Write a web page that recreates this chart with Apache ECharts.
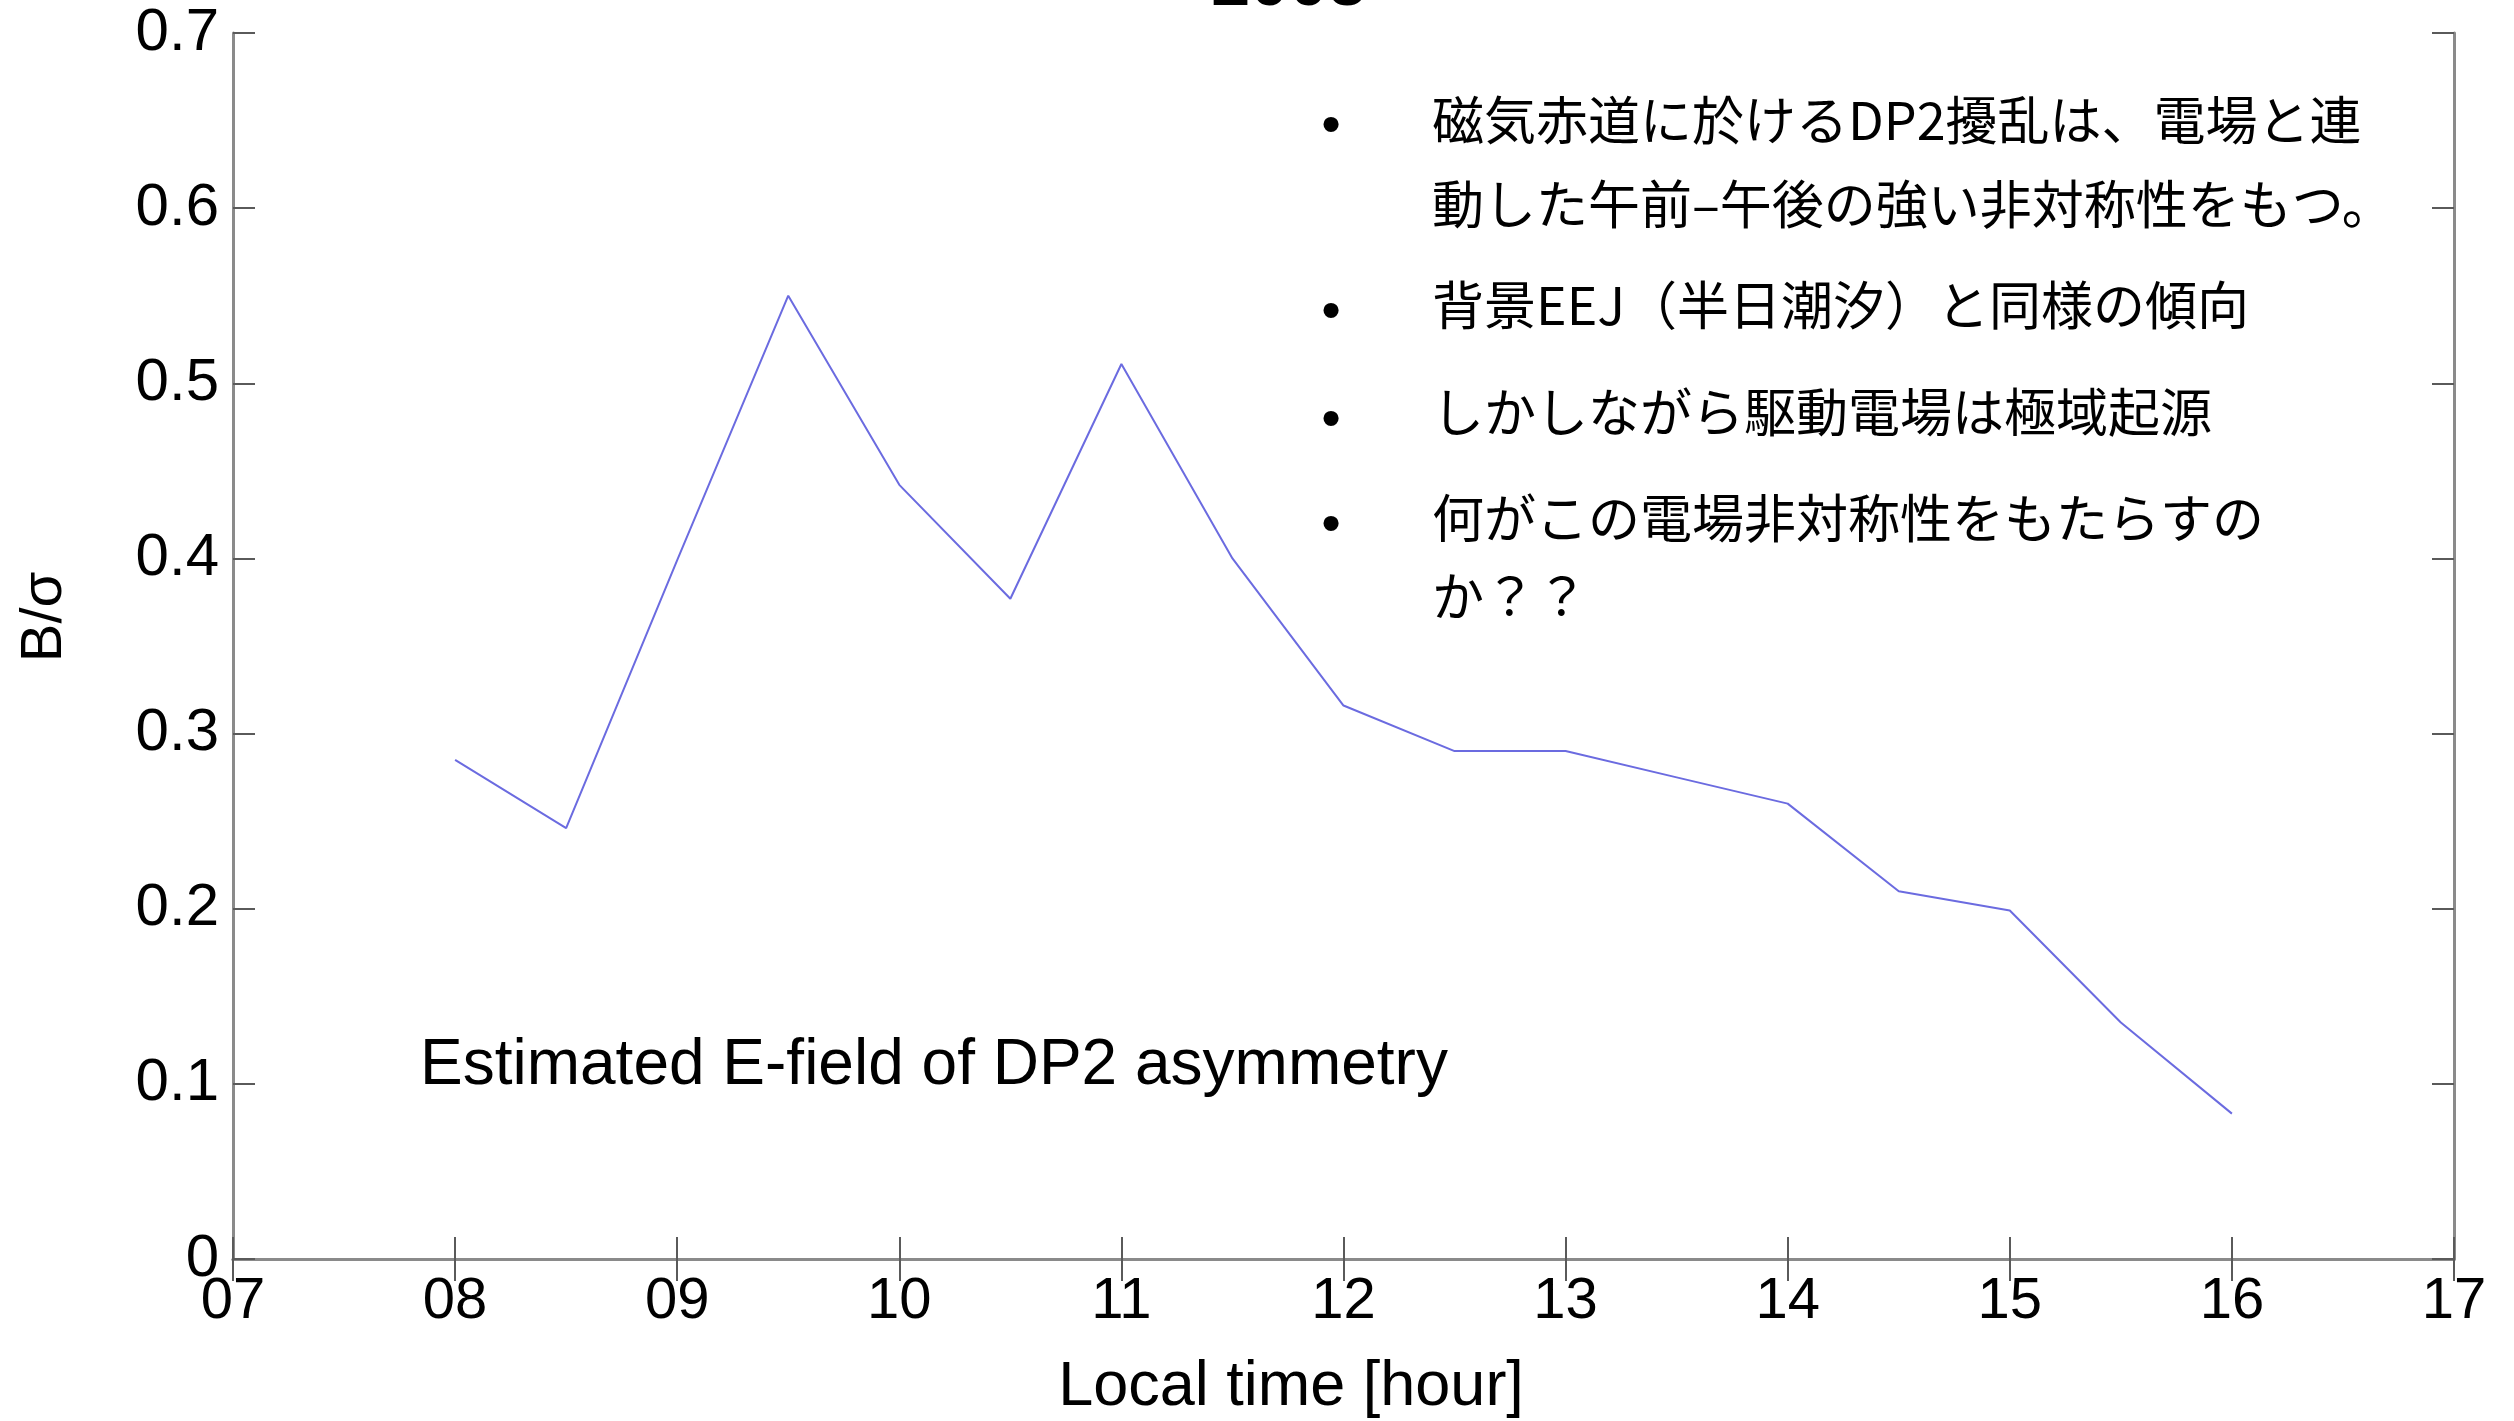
<!DOCTYPE html>
<html>
<head>
<meta charset="utf-8">
<script src="https://cdn.jsdelivr.net/npm/echarts@6/dist/echarts.min.js"></script>
<style>
  html, body { margin: 0; padding: 0; background: #ffffff; }
  #chart { width: 2514px; height: 1421px; }
</style>
</head>
<body>
<div id="chart"></div>
<script>
// Local time (hours) and normalised DP2 amplitude B/sigma
const hours = [8, 8.5, 9, 9.5, 10, 10.5, 11, 11.5, 12, 12.5, 13, 13.5, 14, 14.5, 15, 15.5, 16];
const ratio = [0.285, 0.246, 0.399, 0.550, 0.442, 0.377, 0.511, 0.400, 0.316, 0.290, 0.290, 0.275, 0.260, 0.210, 0.199, 0.135, 0.083];

// Tick labels
const xTickLabels = ['07', '08', '09', '10', '11', '12', '13', '14', '15', '16', '17'];
const yTickLabels = ['0', '0.1', '0.2', '0.3', '0.4', '0.5', '0.6', '0.7'];

// Bullet notes
const notes = [
  ['磁気赤道に於けるDP2擾乱は、電場と連', '動した午前–午後の強い非対称性をもつ。'],
  ['背景EEJ（半日潮汐）と同様の傾向'],
  ['しかしながら駆動電場は極域起源'],
  ['何がこの電場非対称性をもたらすの', 'か？？']
];
const chartTitle = '2005';
const xName = 'Local time [hour]';
const yName = 'B/σ';
const caption = 'Estimated E-field of DP2 asymmetry';

const latin = '"Liberation Sans", Arial, Helvetica, sans-serif';
const cjk = '"Noto Sans CJK JP", "Noto Sans", sans-serif';
const boxLine = { show: true, lineStyle: { color: '#8a8a8a', width: 3 } };
const inTick = { show: true, inside: true, length: 22, lineStyle: { color: '#5a5a5a', width: 2 } };

const chart = echarts.init(document.getElementById('chart'), null, { renderer: 'canvas' });

// Note layout: text lines and bullet marks
const noteGraphics = [];
const lineYs = [[120, 204], [305], [412], [518, 596]];
const bulletYs = [128, 314, 422, 527];
notes.forEach((lines, i) => {
  noteGraphics.push({
    type: 'text', x: 1331, y: bulletYs[i],
    style: { text: '•', font: '56px ' + latin, fill: '#000', align: 'center', verticalAlign: 'middle' }
  });
  lines.forEach((t, j) => {
    noteGraphics.push({
      type: 'text', x: 1432, y: lineYs[i][j],
      style: { text: t, font: '52px ' + cjk, fill: '#000', align: 'left', verticalAlign: 'middle' }
    });
  });
});

chart.setOption({
  backgroundColor: '#ffffff',
  animation: false,
  grid: { left: 233, top: 33, width: 2221, height: 1226, containLabel: false },
  xAxis: [
    {
      type: 'value', min: 7, max: 17, interval: 1, position: 'bottom',
      axisLine: boxLine, axisTick: inTick, splitLine: { show: false },
      axisLabel: {
        show: true, margin: 14, color: '#000', fontSize: 58, fontFamily: latin,
        formatter: v => xTickLabels[Math.round(v - 7)]
      }
    },
    {
      type: 'value', min: 7, max: 17, interval: 1, position: 'top',
      axisLine: boxLine, axisTick: inTick, splitLine: { show: false },
      axisLabel: { show: false }
    }
  ],
  yAxis: [
    {
      type: 'value', min: 0, max: 0.7, interval: 0.1, position: 'left',
      axisLine: boxLine, axisTick: inTick, splitLine: { show: false },
      axisLabel: {
        show: true, margin: 14, color: '#000', fontSize: 60, fontFamily: latin,
        formatter: v => yTickLabels[Math.round(v * 10)]
      }
    },
    {
      type: 'value', min: 0, max: 0.7, interval: 0.1, position: 'right',
      axisLine: boxLine, axisTick: inTick, splitLine: { show: false },
      axisLabel: { show: false }
    }
  ],
  series: [{
    type: 'line',
    xAxisIndex: 0, yAxisIndex: 0,
    data: hours.map((h, i) => [h, ratio[i]]),
    showSymbol: false,
    lineStyle: { color: '#6b6be0', width: 2 },
    itemStyle: { color: '#6b6be0' }
  }],
  graphic: [
    {
      type: 'text', x: 1289, y: -14,
      style: { text: chartTitle, font: 'bold 70px ' + latin, fill: '#000', align: 'center', verticalAlign: 'middle' }
    },
    {
      type: 'text', x: 1291, y: 1388,
      style: { text: xName, font: '63px ' + latin, fill: '#000', align: 'center', verticalAlign: 'middle' }
    },
    {
      type: 'text', x: 45, y: 617, rotation: Math.PI / 2,
      style: { text: yName, font: '58px ' + latin, fill: '#000', align: 'center', verticalAlign: 'middle' }
    },
    {
      type: 'text', x: 420, y: 1066,
      style: { text: caption, font: '64px ' + latin, fill: '#000', align: 'left', verticalAlign: 'middle' }
    }
  ].concat(noteGraphics)
});
</script>
</body>
</html>
